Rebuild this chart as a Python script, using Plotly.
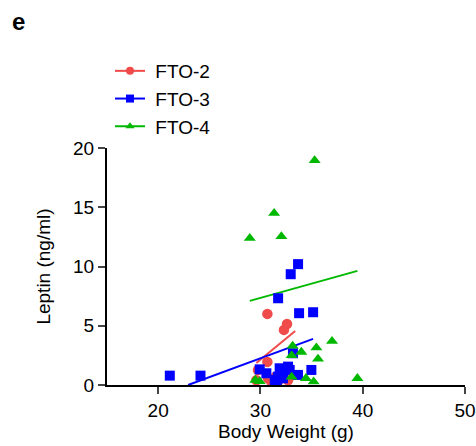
import plotly.graph_objects as go

# ---- data ----
series_names = ["FTO-2", "FTO-3", "FTO-4"]

fto2_bw = [30.68, 32.3, 32.6, 30.68, 29.76, 29.6, 30.74, 31.07, 31.7, 32.7, 31.5]
fto2_lep = [6.0, 4.65, 5.15, 1.95, 1.27, 0.4, 0.56, 0.28, 0.28, 0.4, 0.7]

fto3_bw = [21.14, 24.14, 33.68, 32.96, 31.73, 33.78, 35.15, 34.98, 29.93, 30.58,
           31.88, 31.7, 32.2, 32.86, 33.18, 33.67, 32.7, 31.4, 32.0, 31.6]
fto3_lep = [0.79, 0.79, 10.2, 9.35, 7.32, 6.06, 6.14, 1.27, 1.32, 0.99,
            1.41, 0.7, 0.56, 1.27, 2.68, 0.85, 1.55, 0.42, 0.9, 0.3]

fto4_bw = [35.3, 31.34, 28.96, 32.05, 37.0, 35.47, 35.63, 34.0, 33.15, 33.05,
           33.05, 34.45, 35.2, 39.48, 29.5, 29.93]
fto4_lep = [18.95, 14.5, 12.39, 12.54, 3.7, 3.15, 2.2, 2.78, 3.3, 2.5,
            0.68, 0.56, 0.28, 0.56, 0.42, 0.3]

# regression lines (end points)
fit2_x = [29.6, 33.4]
fit2_y = [1.85, 4.55]
fit3_x = [22.93, 35.15]
fit3_y = [0.0, 3.89]
fit4_x = [28.96, 39.48]
fit4_y = [7.1, 9.63]

x_ticks = [20, 30, 40, 50]
y_ticks = [0, 5, 10, 15, 20]

# ---- styling ----
RED = "#f04a4a"
BLUE = "#0000ff"
GREEN = "#00b800"
FONT = "Liberation Sans, Arial, sans-serif"

W, H = 476, 446
L, R, T, B = 107, 11, 148, 61
PW, PH = W - L - R, H - T - B

fig = go.Figure()

# fit lines first (markers drawn over)
for fx, fy, col in [(fit2_x, fit2_y, RED), (fit3_x, fit3_y, BLUE), (fit4_x, fit4_y, GREEN)]:
    fig.add_trace(go.Scatter(x=fx, y=fy, mode="lines", line=dict(color=col, width=2),
                             showlegend=False, hoverinfo="skip", cliponaxis=False))

fig.add_trace(go.Scatter(x=fto2_bw, y=fto2_lep, mode="markers",
                         marker=dict(symbol="circle", size=10.5, color=RED),
                         showlegend=False, cliponaxis=False))
fig.add_trace(go.Scatter(x=fto3_bw, y=fto3_lep, mode="markers",
                         marker=dict(symbol="square", size=10, color=BLUE),
                         showlegend=False, cliponaxis=False))
fig.add_trace(go.Scatter(x=fto4_bw, y=fto4_lep, mode="markers",
                         marker=dict(symbol="triangle-up", size=10.5, color=GREEN),
                         showlegend=False, cliponaxis=False))

# legend entries
for name, sym, col in zip(series_names, ["circle", "square", "triangle-up"], [RED, BLUE, GREEN]):
    fig.add_trace(go.Scatter(x=[None], y=[None], mode="lines+markers", name="&nbsp;" + name,
                             line=dict(color=col, width=2),
                             marker=dict(symbol=sym, size=8, color=col)))

fig.update_layout(
    width=W, height=H,
    margin=dict(l=L, r=R, t=T, b=B, autoexpand=False),
    paper_bgcolor="white", plot_bgcolor="white",
    font=dict(family=FONT, size=19, color="black"),
    showlegend=True,
    legend=dict(x=(110 - L) / PW, y=(T + PH - 52) / PH, xanchor="left", yanchor="top",
                font=dict(size=19), bgcolor="rgba(0,0,0,0)",
                tracegroupgap=0, itemwidth=30),
    xaxis=dict(range=[15, 50], tickvals=x_ticks, ticks="outside", ticklen=7, tickwidth=2,
               showline=True, linewidth=2, linecolor="black", showgrid=False, zeroline=False,
               title=dict(text="Body Weight (g)", font=dict(size=19), standoff=5)),
    yaxis=dict(range=[0, 20], tickvals=y_ticks, ticks="outside", ticklen=7, tickwidth=2,
               showline=True, linewidth=2, linecolor="black", showgrid=False, zeroline=False,
               title=dict(text="Leptin (ng/ml)", font=dict(size=19), standoff=17)),
)
fig.add_annotation(text="<b>e</b>", xref="paper", yref="paper",
                   x=(18 - L) / PW, y=(T + PH - 21) / PH, showarrow=False,
                   font=dict(size=24, family=FONT), xanchor="center", yanchor="middle")

# remove the page's default body margin so the figure sits at the window origin
fig.write_html("out.html", config={"displayModeBar": False},
               post_script="document.body.style.margin='0';document.body.style.overflow='hidden';")
